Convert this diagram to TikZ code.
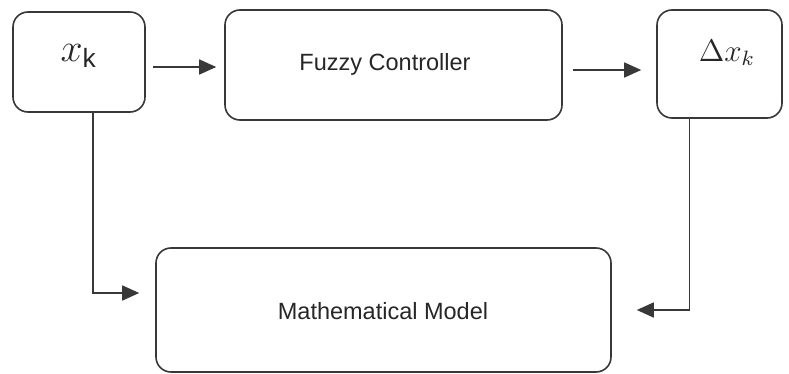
\documentclass[tikz,border=0pt]{standalone}
\usepackage{graphicx}
\usepackage{fontspec}
\setmainfont{Liberation Sans}
\usetikzlibrary{arrows.meta,calc,positioning}
\definecolor{lncol}{HTML}{383838}
\tikzset{blk/.style={draw=lncol,line width=1.6pt,rounded corners=15pt,inner sep=0pt},
  arr/.style={draw=lncol,line width=1.6pt,-{Triangle[length=17pt,width=15pt]}}}

\begin{document}
\begin{tikzpicture}[x=1pt,y=-1pt,font=\fontsize{23.5}{28}\selectfont,text=black!85]
\useasboundingbox (0,0) rectangle (789,374);
\node[blk,minimum width=132pt,minimum height=100pt] (xk) at (79,62) {};
\node[blk,minimum width=337pt,minimum height=110pt] (fuzzy) at (393.5,65) {};
\node[blk,minimum width=125pt,minimum height=108pt] (dx) at (719.5,64) {};
\node[blk,minimum width=455pt,minimum height=124pt] (model) at (383.5,310) {};
\node (xklab) at (79,56) {\fontsize{12}{14}\selectfont\scalebox{3.3}{$x_{\mathrm{k}}$}};
\node (dxlab) at (727,53) {\fontsize{12}{14}\selectfont\scalebox{2.6}{$\Delta x_{k}$}};
\node (fuzzylab) at (385,64) {Fuzzy Controller};
\node (modellab) at (383,311) {Mathematical Model};
% connectors
\draw[arr,shorten <=7pt,shorten >=8pt] ([yshift=-5pt]xk.east) -- ([yshift=-5pt]xk.east -| fuzzy.west);
\draw[arr,shorten <=10pt,shorten >=15pt] ([yshift=-5pt]fuzzy.east) -- ([yshift=-5pt]fuzzy.east -| dx.west);
\draw[arr,shorten >=16pt] ([xshift=14pt]xk.south) |- ([yshift=17pt]model.west);
\draw[arr,shorten >=25pt] ([xshift=-30pt]dx.south) |- (model.east);
\end{tikzpicture}
\end{document}
